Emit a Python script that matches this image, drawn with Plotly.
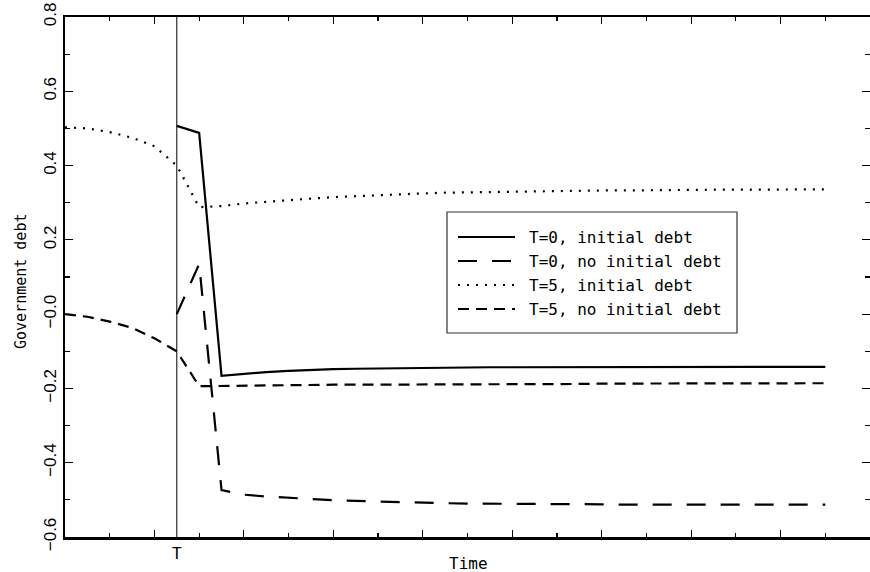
import plotly.graph_objects as go

# ---- data -------------------------------------------------------------
t_full = list(range(0, 35))          # T=5 scenarios (announced 5 periods earlier)
t_late = list(range(5, 35))          # T=0 scenarios (start at T)

t0_initial = [0.507, 0.488, -0.166, -0.160, -0.156, -0.153, -0.150, -0.148,
              -0.147, -0.146, -0.145, -0.144, -0.144, -0.144, -0.143, -0.143,
              -0.143, -0.143, -0.143, -0.142, -0.142, -0.142, -0.142, -0.142,
              -0.142, -0.142, -0.142, -0.142, -0.142, -0.142]
t0_noinitial = [0.000, 0.135, -0.474, -0.486, -0.491, -0.495, -0.498, -0.501,
                -0.503, -0.505, -0.507, -0.508, -0.509, -0.510, -0.510, -0.511,
                -0.511, -0.512, -0.512, -0.512, -0.513, -0.513, -0.513, -0.513,
                -0.513, -0.513, -0.513, -0.513, -0.513, -0.513]
t5_initial = [0.503, 0.500, 0.490, 0.475, 0.452, 0.400, 0.288, 0.291, 0.298,
              0.303, 0.307, 0.311, 0.315, 0.318, 0.321, 0.323, 0.325, 0.327,
              0.328, 0.329, 0.330, 0.331, 0.332, 0.332, 0.333, 0.333, 0.334,
              0.334, 0.334, 0.335, 0.335, 0.335, 0.335, 0.336, 0.336]
t5_noinitial = [0.000, -0.007, -0.020, -0.037, -0.065, -0.100, -0.194, -0.193,
                -0.192, -0.192, -0.191, -0.191, -0.190, -0.190, -0.190, -0.189,
                -0.189, -0.189, -0.189, -0.188, -0.188, -0.188, -0.188, -0.188,
                -0.187, -0.187, -0.187, -0.187, -0.187, -0.187, -0.187, -0.186,
                -0.186, -0.186, -0.186]

series_names = ["T=0, initial debt", "T=0, no initial debt",
                "T=5, initial debt", "T=5, no initial debt"]
y_tickvals = [-0.6, -0.4, -0.2, 0.0, 0.2, 0.4, 0.6, 0.8]
y_ticktext = ["\u22120.6", "\u22120.4", "\u22120.2", "\u22120.0",
              "0.2", "0.4", "0.6", "0.8"]
T_time = 5

# ---- styles -----------------------------------------------------------
dashes = ["solid", "19px,15px", "2px,7px", "11px,7px"]
widths = [2.2, 2.2, 2.2, 2.2]
MONO = "DejaVu Sans Mono"

W, H = 870, 572
ML, MR, MT, MB = 65, 0, 17, 35
PW, PH = W - ML - MR, H - MT - MB


def px(xp):
    return (xp - ML) / PW


def py(yp):
    return (H - MB - yp) / PH


fig = go.Figure()
xs = [t_late, t_late, t_full, t_full]
ys = [t0_initial, t0_noinitial, t5_initial, t5_noinitial]
for name, x, y, d, w in zip(series_names, xs, ys, dashes, widths):
    fig.add_trace(go.Scatter(x=x, y=y, mode="lines", name=name,
                             line=dict(color="black", width=w, dash=d),
                             showlegend=False, hoverinfo="skip"))

# vertical line at T
fig.add_shape(type="line", xref="x", yref="paper", x0=T_time, x1=T_time,
              y0=0, y1=1, line=dict(color="black", width=1))

# manual legend
box_l, box_r, box_t, box_b = 447, 737, 212, 333
fig.add_shape(type="rect", xref="paper", yref="paper",
              x0=px(box_l), x1=px(box_r), y0=py(box_b), y1=py(box_t),
              line=dict(color="#333333", width=1.2), fillcolor="white",
              layer="above")
rows = [237, 261, 285, 309]
for name, d, w, ry in zip(series_names, dashes, widths, rows):
    fig.add_shape(type="line", xref="paper", yref="paper",
                  x0=px(458), x1=px(515), y0=py(ry), y1=py(ry),
                  line=dict(color="black", width=w, dash=d), layer="above")
    fig.add_annotation(x=px(527), y=py(ry), xref="paper", yref="paper",
                       text=name, showarrow=False, xanchor="left",
                       yanchor="middle",
                       font=dict(family=MONO, size=16, color="black"))

# T label and axis titles
fig.add_annotation(x=T_time, y=py(553), xref="x", yref="paper", text="T",
                   showarrow=False, xanchor="center", yanchor="middle",
                   font=dict(family=MONO, size=16, color="black"))
fig.add_annotation(x=px(468), y=py(563), xref="paper", yref="paper",
                   text="Time", showarrow=False, xanchor="center",
                   yanchor="middle",
                   font=dict(family=MONO, size=16, color="black"))
fig.add_annotation(x=px(21), y=py(282), xref="paper", yref="paper",
                   text="Government debt", showarrow=False, textangle=-90,
                   xanchor="center", yanchor="middle",
                   font=dict(family=MONO, size=15, color="black"))

fig.update_xaxes(range=[0, 36], showgrid=False, zeroline=False,
                 showline=True, linecolor="black", linewidth=2.5,
                 mirror="ticks", ticks="inside", ticklen=7, tickwidth=1.2,
                 tickcolor="black", tick0=0, dtick=4, showticklabels=False,
                 minor=dict(ticks="inside", ticklen=4, tickwidth=1.2,
                            tickcolor="black", dtick=2, tick0=0,
                            showgrid=False))
fig.update_yaxes(range=[-0.6, 0.8], showgrid=False, zeroline=False,
                 showline=True, linecolor="black", linewidth=2.5,
                 mirror="ticks", ticks="inside", ticklen=8, tickwidth=1.2,
                 tickcolor="black", tickvals=y_tickvals, ticktext=y_ticktext,
                 tickangle=-90,
                 tickfont=dict(family="Liberation Sans", size=17,
                               color="black"),
                 minor=dict(ticks="inside", ticklen=5, tickwidth=1.2,
                            tickcolor="black", dtick=0.1, tick0=0,
                            showgrid=False))

fig.update_layout(width=W, height=H, autosize=False,
                  margin=dict(l=ML, r=MR, t=MT, b=MB, autoexpand=False),
                  paper_bgcolor="white", plot_bgcolor="white",
                  showlegend=False, hovermode=False)

fig.write_html("out.html",
               config={"displayModeBar": False, "staticPlot": True},
               post_script="document.body.style.margin='0';"
                           "document.body.style.overflow='hidden';")
